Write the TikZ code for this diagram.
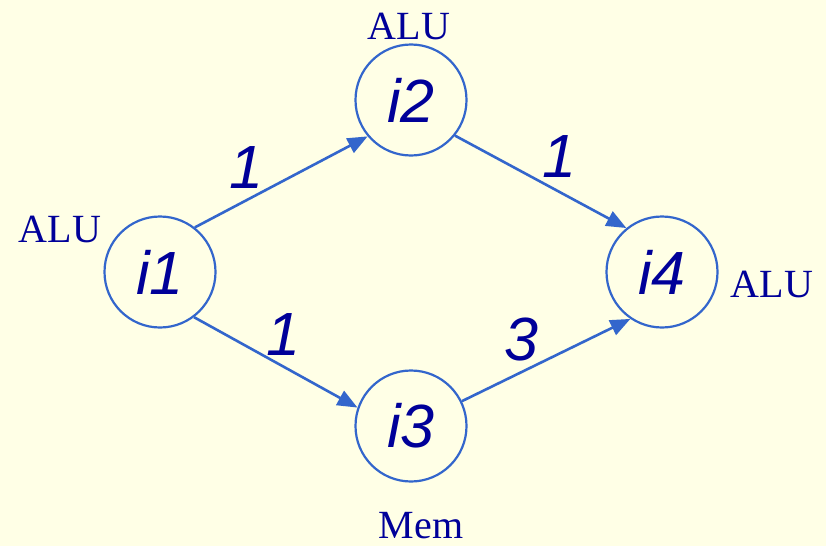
\documentclass[tikz,border=0pt]{standalone}
\usepackage{fontspec}
\setmainfont{Liberation Serif}
\setsansfont{Liberation Sans}
\usetikzlibrary{arrows.meta}
\definecolor{bgcream}{RGB}{255,255,230}
\definecolor{edgeblue}{RGB}{51,102,204}
\definecolor{inknavy}{RGB}{0,0,153}
\begin{document}
\begin{tikzpicture}[x=1pt,y=-1pt,
  instr/.style={circle,draw=edgeblue,line width=2.2pt,minimum size=111pt,inner sep=0pt,
    text=inknavy,font=\sffamily\itshape\fontsize{61}{61}\selectfont},
  unitlabel/.style={text=inknavy,font=\rmfamily\fontsize{40}{40}\selectfont,inner sep=0pt},
  weight/.style={text=inknavy,font=\sffamily\itshape\fontsize{61}{61}\selectfont,inner sep=0pt},
  dep/.style={draw=edgeblue,line width=2.6pt,-{Triangle[length=20pt,width=16pt]}}]
  \fill[bgcream] (0,0) rectangle (826,546);
  \useasboundingbox (0,0) rectangle (826,546);

  % instruction nodes
  \node[instr] (i1) at (160,272) {i1};
  \node[instr] (i2) at (411,100) {i2};
  \node[instr] (i3) at (411,426) {i3};
  \node[instr] (i4) at (662,272) {i4};

  % functional unit labels
  \node[unitlabel] (u1) at (60,229) {ALU};
  \node[unitlabel] (u2) at (409,26) {ALU};
  \node[unitlabel] (u4) at (772,284) {ALU};
  \node[unitlabel] (u3) at (421,526) {Mem};

  % dependence edges
  \draw[dep] (i1.52) -- (i2.220);
  \draw[dep] (i2.-39) -- (i4.129);
  \draw[dep] (i1.-53) -- (i3.161);
  \draw[dep] (i3.26) -- (i4.236);

  % latencies
  \node[weight] (w12) at (246,168) {1};
  \node[weight] (w24) at (559,157) {1};
  \node[weight] (w13) at (283,335) {1};
  \node[weight] (w34) at (521,339) {3};
\end{tikzpicture}
\end{document}
